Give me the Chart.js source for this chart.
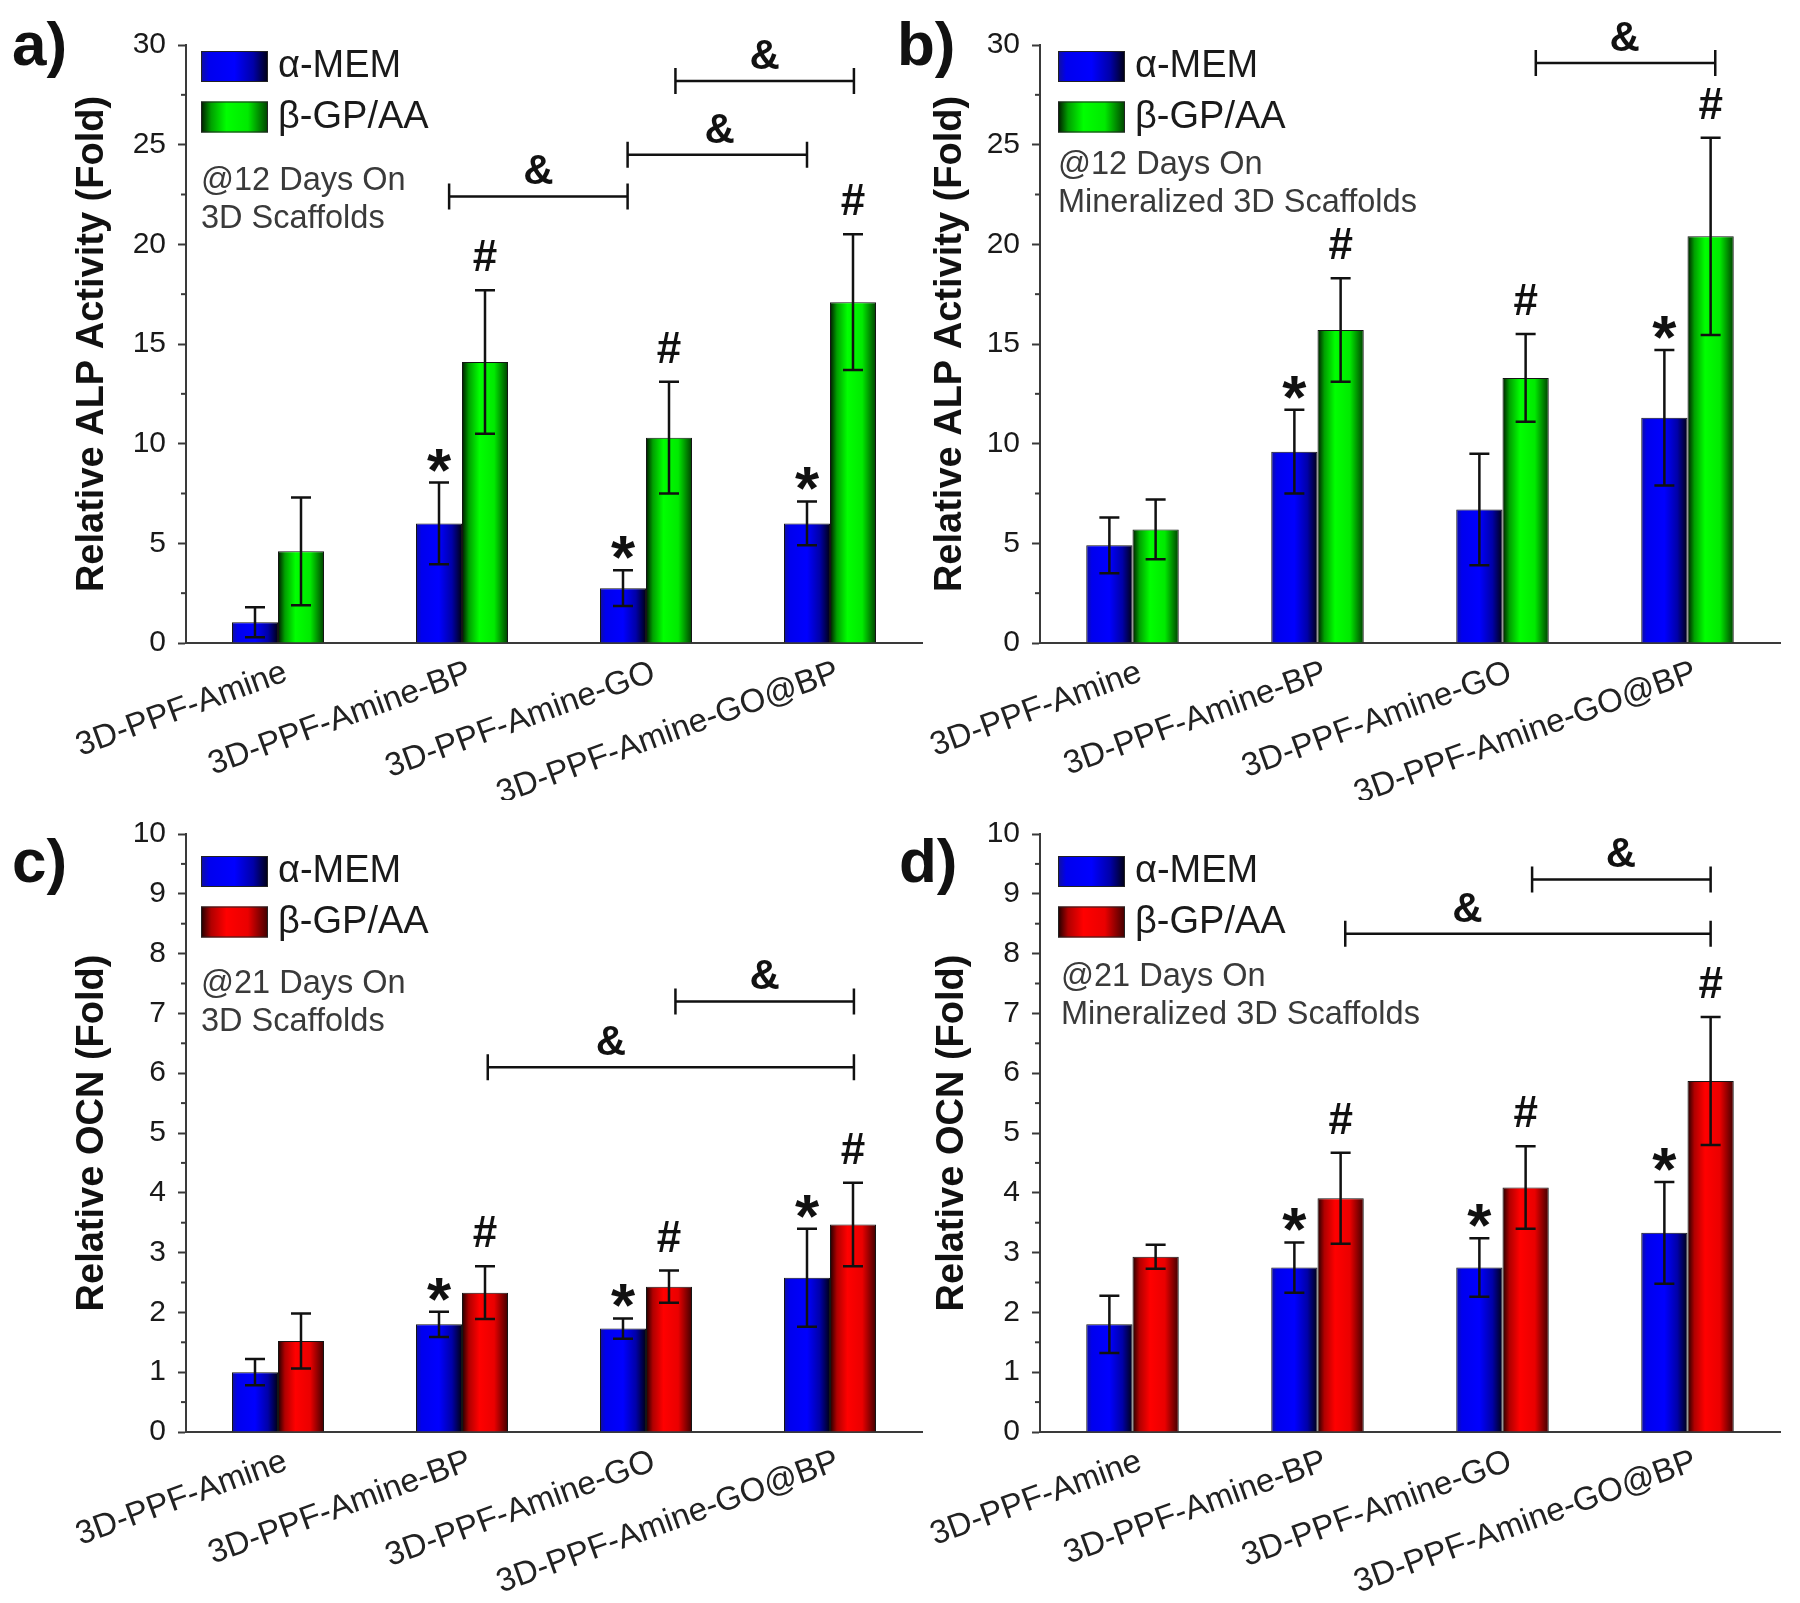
<!DOCTYPE html>
<html><head><meta charset="utf-8">
<script src="https://cdn.jsdelivr.net/npm/chart.js@4.4.1/dist/chart.umd.min.js"></script>
<style>
html,body{margin:0;padding:0;background:#fff;}
#wrap{position:relative;width:1800px;height:1603px;overflow:hidden;background:#fff;}
canvas{position:absolute;}
</style></head><body>
<div id="wrap">
<canvas id="pa" width="960" height="800" style="left:0px;top:0px"></canvas>
<canvas id="pb" width="920" height="800" style="left:880px;top:0px"></canvas>
<canvas id="pc" width="960" height="813" style="left:0px;top:790px"></canvas>
<canvas id="pd" width="920" height="813" style="left:880px;top:790px"></canvas>
</div>
<script>
// ---------- DATA ----------
const categories = ['3D-PPF-Amine', '3D-PPF-Amine-BP', '3D-PPF-Amine-GO', '3D-PPF-Amine-GO@BP'];
const seriesNames = ['α-MEM', 'β-GP/AA'];

const alpScaffoldMem    = [1.04, 6.0, 2.75, 6.0];
const alpScaffoldMemErr = [0.75, 2.05, 0.9, 1.1];
const alpScaffoldGp     = [4.6, 14.1, 10.3, 17.1];
const alpScaffoldGpErr  = [2.7, 3.6, 2.8, 3.4];

const alpMineralMem    = [4.9, 9.6, 6.7, 11.3];
const alpMineralMemErr = [1.4, 2.1, 2.8, 3.4];
const alpMineralGp     = [5.7, 15.7, 13.3, 20.4];
const alpMineralGpErr  = [1.5, 2.6, 2.2, 4.95];

const ocnScaffoldMem    = [1.0, 1.8, 1.73, 2.58];
const ocnScaffoldMemErr = [0.22, 0.21, 0.17, 0.82];
const ocnScaffoldGp     = [1.52, 2.33, 2.43, 3.47];
const ocnScaffoldGpErr  = [0.46, 0.44, 0.27, 0.7];

const ocnMineralMem    = [1.8, 2.75, 2.75, 3.33];
const ocnMineralMemErr = [0.48, 0.42, 0.49, 0.85];
const ocnMineralGp     = [2.93, 3.91, 4.09, 5.87];
const ocnMineralGpErr  = [0.2, 0.76, 0.69, 1.07];

// significance markers per category (1 = shown)
const starA = [0, 1, 1, 1], hashA = [0, 1, 1, 1];
const starB = [0, 1, 0, 1], hashB = [0, 1, 1, 1];
const starC = [0, 1, 1, 1], hashC = [0, 1, 1, 1];
const starD = [0, 1, 1, 1], hashD = [0, 1, 1, 1];

// brackets: [from category position, to category position, y value, '&' category position]
const bracketsA = [[0.93, 1.9, 22.4, 1.415], [1.9, 2.875, 24.5, 2.4], [2.16, 3.13, 28.2, 2.645]];
const bracketsB = [[2.18, 3.15, 29.1, 2.66]];
const bracketsC = [[1.14, 3.13, 6.1, 1.81], [2.16, 3.13, 7.2, 2.645]];
const bracketsD = [[1.15, 3.125, 8.33, 1.81], [2.16, 3.125, 9.24, 2.64]];

const alpTicks = {max: 30, step: 5, minor: 2.5};
const ocnTicks = {max: 10, step: 1, minor: 0.5};

// ---------- STYLE ----------
const FF = "'Liberation Sans', Arial, sans-serif";
Chart.defaults.font.family = FF;
Chart.defaults.color = '#1a1a1a';

const blueStops  = [[0, '#10109a'], [0.12, '#0000ee'], [0.5, '#0000ff'], [0.78, '#0000a8'], [1, '#000012']];
const greenStops = [[0, '#001800'], [0.15, '#00a000'], [0.38, '#00ff00'], [0.7, '#00ea00'], [1, '#004000']];
const redStops   = [[0, '#1c0000'], [0.15, '#b00000'], [0.38, '#ff0000'], [0.7, '#ea0000'], [1, '#400000']];

function fillGrad(ctx, x0, w, stops) {
  const g = ctx.createLinearGradient(x0, 0, x0 + w, 0);
  stops.forEach(s => g.addColorStop(s[0], s[1]));
  return g;
}

function barGradient(stops) {
  return (c) => {
    const chart = c.chart;
    const xs = chart.scales && chart.scales.x;
    if (!xs || c.type !== 'data' || !chart.chartArea || !xs.width) return stops[2][1];
    const center = xs.getPixelForValue(c.dataIndex);
    const cw = xs.getPixelForValue(1) - xs.getPixelForValue(0);
    const bw = cw * 0.25;
    const x0 = c.datasetIndex === 0 ? center - bw : center;
    return fillGrad(chart.ctx, x0, bw, stops);
  };
}

function extrasPlugin(cfg) {
  return {
    id: 'extras',
    afterDatasetsDraw(chart) {
      const ctx = chart.ctx, xs = chart.scales.x, ys = chart.scales.y;
      ctx.save();
      // error bars
      ctx.strokeStyle = '#111';
      ctx.lineWidth = 2.5;
      [[cfg.mem, cfg.memErr], [cfg.gp, cfg.gpErr]].forEach((pair, di) => {
        const meta = chart.getDatasetMeta(di);
        pair[0].forEach((v, i) => {
          const bx = meta.data[i].x;
          const yt = ys.getPixelForValue(v + pair[1][i]);
          const yb = ys.getPixelForValue(v - pair[1][i]);
          ctx.beginPath();
          ctx.moveTo(bx, yt); ctx.lineTo(bx, yb);
          ctx.moveTo(bx - 10, yt); ctx.lineTo(bx + 10, yt);
          ctx.moveTo(bx - 10, yb); ctx.lineTo(bx + 10, yb);
          ctx.stroke();
        });
      });
      // markers
      ctx.fillStyle = '#111';
      ctx.textAlign = 'center';
      ctx.textBaseline = 'alphabetic';
      const m0 = chart.getDatasetMeta(0), m1 = chart.getDatasetMeta(1);
      cfg.star.forEach((s, i) => {
        if (!s) return;
        ctx.font = 'bold 62px ' + FF;
        const yt = ys.getPixelForValue(cfg.mem[i] + cfg.memErr[i]);
        ctx.fillText('*', m0.data[i].x, yt + 8);
      });
      cfg.hash.forEach((s, i) => {
        if (!s) return;
        ctx.font = 'bold 44px ' + FF;
        const yt = ys.getPixelForValue(cfg.gp[i] + cfg.gpErr[i]);
        ctx.fillText('#', m1.data[i].x, yt - 19);
      });
      // brackets
      const p0 = xs.getPixelForValue(0), cw = xs.getPixelForValue(1) - p0;
      const xAt = v => p0 + v * cw;
      ctx.lineWidth = 2.5;
      cfg.brackets.forEach(b => {
        const x1 = xAt(b[0]), x2 = xAt(b[1]), yy = ys.getPixelForValue(b[2]);
        ctx.beginPath();
        ctx.moveTo(x1, yy); ctx.lineTo(x2, yy);
        ctx.moveTo(x1, yy - 13); ctx.lineTo(x1, yy + 13);
        ctx.moveTo(x2, yy - 13); ctx.lineTo(x2, yy + 13);
        ctx.stroke();
        ctx.font = 'bold 42px ' + FF;
        ctx.fillText('&', xAt(b[3]), yy - 12);
      });
      ctx.restore();
    },
    afterDraw(chart) {
      const ctx = chart.ctx, ys = chart.scales.y, area = chart.chartArea;
      const g = cfg.geom;
      ctx.save();
      // minor ticks
      ctx.strokeStyle = '#3a3a3a';
      ctx.lineWidth = 2;
      for (let v = cfg.ticks.minor; v < cfg.ticks.max; v += cfg.ticks.step) {
        const py = ys.getPixelForValue(v);
        ctx.beginPath(); ctx.moveTo(area.left - 5, py); ctx.lineTo(area.left, py); ctx.stroke();
      }
      // legend
      const stops = [blueStops, cfg.gpStops];
      seriesNames.forEach((name, k) => {
        const ly = g.legY + k * 50.5;
        ctx.fillStyle = fillGrad(ctx, g.legX, 67, stops[k]);
        ctx.fillRect(g.legX, ly, 67, 31);
        ctx.strokeStyle = '#222'; ctx.lineWidth = 1;
        ctx.strokeRect(g.legX + 0.5, ly + 0.5, 66, 30);
        ctx.fillStyle = '#1a1a1a';
        ctx.font = '38px ' + FF;
        ctx.textAlign = 'left'; ctx.textBaseline = 'middle';
        ctx.fillText(name, g.legX + 77, ly + 16);
      });
      // note
      ctx.fillStyle = '#3a3a3a';
      ctx.font = '32.5px ' + FF;
      ctx.textBaseline = 'alphabetic';
      cfg.note.forEach((t, k) => ctx.fillText(t, g.noteX, g.noteY + k * 38));
      // panel label
      ctx.fillStyle = '#111';
      ctx.font = 'bold 62px ' + FF;
      ctx.fillText(cfg.label, g.labX, g.labY);
      ctx.restore();
    }
  };
}

function makePanel(canvasId, cfg) {
  const g = cfg.geom;
  return new Chart(document.getElementById(canvasId), {
    type: 'bar',
    data: {
      labels: categories,
      datasets: [
        {label: seriesNames[0], data: cfg.mem, backgroundColor: barGradient(blueStops),
         borderColor: '#151515', borderWidth: 1, categoryPercentage: 0.5, barPercentage: 1.0},
        {label: seriesNames[1], data: cfg.gp, backgroundColor: barGradient(cfg.gpStops),
         borderColor: '#151515', borderWidth: 1, categoryPercentage: 0.5, barPercentage: 1.0}
      ]
    },
    options: {
      responsive: false,
      animation: false,
      events: [],
      layout: {padding: {left: 0, right: g.pr, top: g.pt, bottom: 0}},
      plugins: {legend: {display: false}, tooltip: {enabled: false}},
      scales: {
        x: {
          grid: {display: false, drawTicks: false},
          border: {display: true, color: '#3a3a3a', width: 2},
          ticks: {font: {size: 33}, color: '#222', minRotation: 20, maxRotation: 20,
                  padding: 10, labelOffset: 8, autoSkip: false},
          afterFit: s => { s.height = g.xh; }
        },
        y: {
          min: 0, max: cfg.ticks.max,
          grid: {display: true, drawOnChartArea: false, drawTicks: true, tickLength: 8,
                 tickWidth: 2, tickColor: '#3a3a3a'},
          border: {display: true, color: '#3a3a3a', width: 2},
          ticks: {stepSize: cfg.ticks.step, font: {size: 30}, color: '#1a1a1a', padding: 12},
          title: {display: true, text: cfg.yTitle, font: {size: 38, weight: 'bold'}, color: '#111',
                  padding: {top: g.tp, bottom: 0}},
          afterFit: s => { s.width = g.yw; }
        }
      }
    },
    plugins: [extrasPlugin(cfg)]
  });
}

makePanel('pa', {
  label: 'a)', yTitle: 'Relative ALP Activity (Fold)', ticks: alpTicks,
  mem: alpScaffoldMem, memErr: alpScaffoldMemErr, gp: alpScaffoldGp, gpErr: alpScaffoldGpErr,
  star: starA, hash: hashA, brackets: bracketsA, gpStops: greenStops,
  note: ['@12 Days On', '3D Scaffolds'],
  geom: {yw: 186, pr: 38, pt: 45, xh: 157, tp: 70, legX: 201, legY: 51, noteX: 201, noteY: 190, labX: 12, labY: 65}
});
makePanel('pb', {
  label: 'b)', yTitle: 'Relative ALP Activity (Fold)', ticks: alpTicks,
  mem: alpMineralMem, memErr: alpMineralMemErr, gp: alpMineralGp, gpErr: alpMineralGpErr,
  star: starB, hash: hashB, brackets: bracketsB, gpStops: greenStops,
  note: ['@12 Days On', 'Mineralized 3D Scaffolds'],
  geom: {yw: 160, pr: 20, pt: 45, xh: 157, tp: 48, legX: 178, legY: 51, noteX: 178, noteY: 174, labX: 17, labY: 65}
});
makePanel('pc', {
  label: 'c)', yTitle: 'Relative OCN (Fold)', ticks: ocnTicks,
  mem: ocnScaffoldMem, memErr: ocnScaffoldMemErr, gp: ocnScaffoldGp, gpErr: ocnScaffoldGpErr,
  star: starC, hash: hashC, brackets: bracketsC, gpStops: redStops,
  note: ['@21 Days On', '3D Scaffolds'],
  geom: {yw: 186, pr: 38, pt: 44, xh: 171, tp: 70, legX: 201, legY: 66, noteX: 201, noteY: 203, labX: 12, labY: 92}
});
makePanel('pd', {
  label: 'd)', yTitle: 'Relative OCN (Fold)', ticks: ocnTicks,
  mem: ocnMineralMem, memErr: ocnMineralMemErr, gp: ocnMineralGp, gpErr: ocnMineralGpErr,
  star: starD, hash: hashD, brackets: bracketsD, gpStops: redStops,
  note: ['@21 Days On', 'Mineralized 3D Scaffolds'],
  geom: {yw: 160, pr: 20, pt: 44, xh: 171, tp: 50, legX: 178, legY: 66, noteX: 181, noteY: 196, labX: 19, labY: 92}
});
</script>
</body></html>
